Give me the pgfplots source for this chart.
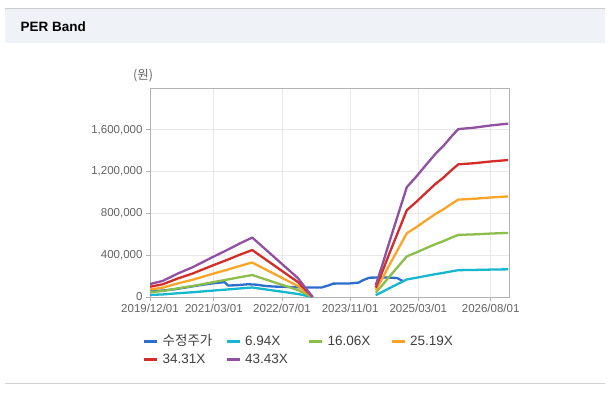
\documentclass[border=0pt]{standalone}
\usepackage{fontspec}
\setmainfont{Liberation Sans}
\newfontfamily\kr{Noto Sans CJK KR}
\usepackage{pgfplots}
\usepackage{pgfplotstable}
\pgfplotsset{compat=1.18}
\definecolor{cPrice}{RGB}{45,110,205}
\definecolor{cA}{RGB}{23,183,206}
\definecolor{cB}{RGB}{140,190,75}
\definecolor{cC}{RGB}{250,165,40}
\definecolor{cD}{RGB}{210,45,40}
\definecolor{cE}{RGB}{145,80,160}
\definecolor{hdr}{RGB}{239,243,248}
\definecolor{tickc}{RGB}{100,100,100}

\pgfplotstableread{
m p
0 55000
3 62000
6 75000
9 95000
12 115000
15 132000
17.5 142000
18.3 110000
20 112000
23 122000
25 118000
27 106000
29 100000
31 98000
34 94000
36 91000
38.3 90000
40.3 91000
42 112000
43 128000
47 130000
49 138000
50 160000
51.5 185000
55 187000
58 182000
59.5 150000
}\price

\pgfplotstableread{
m a b c d e
0 19850 45930 72040 98130 124210
3 24640 57010 89420 121800 154180
6.6 36090 83510 130990 178410 225840
10 45460 105190 165000 224730 284470
14.5 60380 139720 219150 298500 377840
18 71480 165420 259460 353390 447330
21 81550 188710 295980 403140 510300
24 90910 210390 329990 449460 568930
27 73560 170240 267010 363690 460360
30 56210 130090 204040 277910 351780
33 38860 89940 141060 192140 243210
34.8 28450 65850 103280 140670 178060
36.5 13880 32120 50380 68620 86860
38.2 0 0 0 0 0
45 nan nan nan nan nan
53 18040 41760 65490 89210 112920
54.5 47890 110810 173810 236740 299670
56 79810 184690 289690 394570 499450
58 120760 279440 438310 596990 755680
60.3 167950 388650 609600 830300 1051010
62.5 183910 425590 667540 909220 1150900
65 203340 470560 738070 1005280 1272500
67 218610 505890 793490 1080770 1368050
68.9 231100 534800 838830 1142520 1446220
71 247060 571740 896760 1221440 1546110
72.4 256780 594220 932030 1269470 1606910
76 258860 599040 939590 1279760 1619940
80 262330 607070 952180 1296920 1641650
84.1 265110 613490 962260 1310640 1659030
}\bands

\begin{document}
\begin{tikzpicture}
\fill[white] (0,0) rectangle (608pt,392pt);
\fill[hdr] (5pt,349pt) rectangle (605pt,383pt);
\draw[gray!40, line width=1pt] (5pt,383.5pt) -- (605pt,383.5pt);
\draw[gray!35, line width=1pt] (5pt,9pt) -- (605pt,9pt);
\node[anchor=west, font=\fontsize{13.5}{15}\selectfont\bfseries] at (17pt,365pt) {PER Band};
\node[font=\fontsize{12.5}{14}\selectfont\kr, text=tickc] at (143pt,316pt) {(원)};
\begin{axis}[
  at={(150pt,95pt)}, anchor=south west,
  scale only axis, width=359pt, height=209pt,
  xmin=0, xmax=84.3, ymin=0, ymax=2000000,
  scaled y ticks=false,
  xtick={0,15,31,47,63,80},
  xticklabels={2019/12/01,2021/03/01,2022/07/01,2023/11/01,2025/03/01,2026/08/01},
  ytick={0,400000,800000,1200000,1600000},
  yticklabels={0,{400,000},{800,000},{1,200,000},{1,600,000}},
  /pgf/number format/assume math mode=true,
  ticklabel style={font=\fontsize{11.5}{13}\selectfont, text=tickc},
  tick pos=left, tick align=outside, major tick length=4pt,
  tick style={gray!60, line width=0.8pt},
  axis line style={gray!60, line width=1pt},
  grid=major, major grid style={gray!18, line width=0.8pt},
  unbounded coords=jump,
  every axis plot/.append style={line width=2.3pt, line join=round},
  legend columns=4,
  legend cell align=left,
  legend image code/.code={\draw[#1, line width=2.5pt] (0pt,0pt) -- (13pt,0pt);},
  legend style={draw=none, fill=none, at={(-10pt,-36pt)}, anchor=north west,
    font=\fontsize{13.5}{15}\selectfont, text=black!75,
    nodes={inner sep=0pt, text height=10pt, text depth=3pt},
    /tikz/row sep=5pt,
    /tikz/every odd column/.append style={column sep=4pt}},
]
\addplot[cPrice] table[x=m, y=p] {\price};
\addlegendentry{\makebox[63pt][l]{\kr 수정주가}}
\addplot[cA] table[x=m, y=a] {\bands};
\addlegendentry{\makebox[63pt][l]{6.94X}}
\addplot[cB] table[x=m, y=b] {\bands};
\addlegendentry{\makebox[63pt][l]{16.06X}}
\addplot[cC] table[x=m, y=c] {\bands};
\addlegendentry{\makebox[63pt][l]{25.19X}}
\addplot[cD] table[x=m, y=d] {\bands};
\addlegendentry{\makebox[63pt][l]{34.31X}}
\addplot[cE] table[x=m, y=e] {\bands};
\addlegendentry{\makebox[63pt][l]{43.43X}}
\end{axis}
\pgfresetboundingbox
\useasboundingbox (0,0) rectangle (608pt,392pt);
\end{tikzpicture}
\end{document}
